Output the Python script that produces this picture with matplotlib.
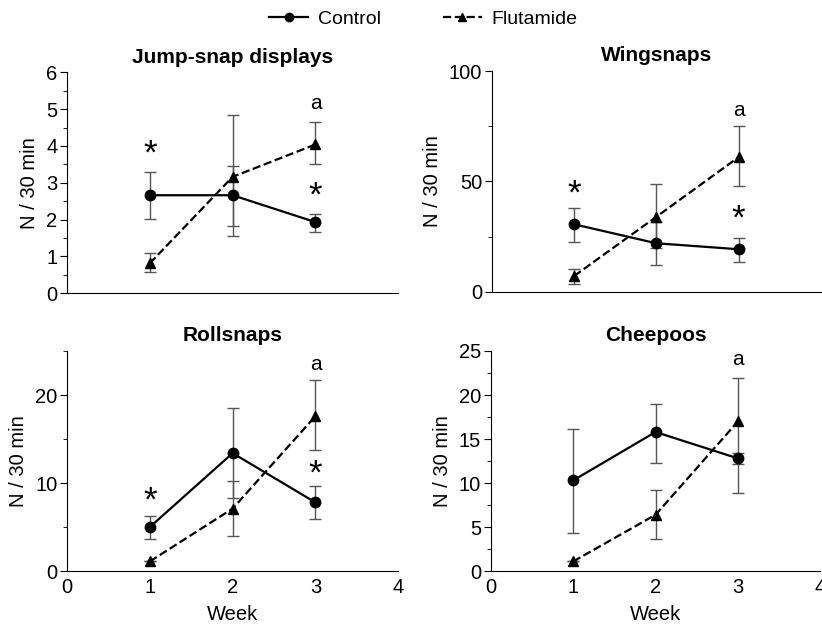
import matplotlib.pyplot as plt
from matplotlib.ticker import MultipleLocator, NullLocator

plt.rcParams['font.family'] = ['Liberation Sans', 'DejaVu Sans']

# ==================================================
# Data
# ==================================================
weeks = [1, 2, 3]

titles = ['Jump-snap displays', 'Wingsnaps', 'Rollsnaps', 'Cheepoos']

control_mean = [[2.66, 2.66, 1.93], [30.6, 22.0, 19.3], [5.0, 13.4, 7.8], [10.3, 15.8, 12.8]]
control_lo = [[2.02, 1.82, 1.67], [22.8, 12.2, 13.7], [3.6, 8.3, 5.9], [4.3, 12.3, 12.2]]
control_hi = [[3.30, 3.46, 2.16], [38.1, 31.8, 24.6], [6.3, 18.5, 9.7], [16.1, 19.0, 13.4]]

flut_mean = [[0.81, 3.16, 4.04], [7.2, 34.0, 61.0], [1.1, 7.1, 17.6], [1.1, 6.4, 17.0]]
flut_lo = [[0.57, 1.55, 3.50], [3.6, 19.8, 48.0], [1.1, 4.0, 13.7], [1.1, 3.6, 8.9]]
flut_hi = [[1.08, 4.84, 4.64], [10.3, 48.7, 75.1], [1.1, 10.2, 21.7], [1.1, 9.2, 21.9]]

y_max = [6, 100, 25, 25]
y_major = [1, 50, 10, 5]
y_minor = [0.5, 25, 5, 2.5]

# annotations: (week, y, text)
marks = [
    [(1, 3.94, '*'), (3, 2.8, '*'), (3, 5.15, 'a')],
    [(1, 47, '*'), (3, 35.6, '*'), (3, 82, 'a')],
    [(1, 8.6, '*'), (3, 11.6, '*'), (3, 23.5, 'a')],
    [(3, 24.0, 'a')],
]

# ==================================================
# Figure
# ==================================================
fig = plt.figure(figsize=(8.22, 6.29), dpi=100)

positions = [
    [0.0815, 0.534, 0.403, 0.351],
    [0.5985, 0.536, 0.400, 0.351],
    [0.0815, 0.092, 0.403, 0.350],
    [0.5970, 0.092, 0.401, 0.350],
]

err_color = '#555555'
fs = 14.5

for i in range(4):
    ax = fig.add_axes(positions[i])
    c_err = [[m - l for m, l in zip(control_mean[i], control_lo[i])],
             [h - m for m, h in zip(control_mean[i], control_hi[i])]]
    f_err = [[m - l for m, l in zip(flut_mean[i], flut_lo[i])],
             [h - m for m, h in zip(flut_mean[i], flut_hi[i])]]

    ax.errorbar(weeks, control_mean[i], yerr=c_err, fmt='none', ecolor=err_color,
                elinewidth=1, capsize=4, capthick=1, zorder=2)
    ax.errorbar(weeks, flut_mean[i], yerr=f_err, fmt='none', ecolor=err_color,
                elinewidth=1, capsize=4, capthick=1, zorder=2)
    ax.plot(weeks, control_mean[i], '-', color='black', marker='o', markersize=7.5,
            linewidth=1.6, label='Control', zorder=3)
    ax.plot(weeks, flut_mean[i], '--', color='black', marker='^', markersize=7.5,
            linewidth=1.6, label='Flutamide', zorder=3)

    for wk, yv, txt in marks[i]:
        if txt == '*':
            # the star glyph sits high in its box, so nudge it down a little
            ax.annotate(txt, (wk, yv), xytext=(0, -4), textcoords='offset points',
                        ha='center', va='center', fontsize=25)
        else:
            ax.text(wk, yv, txt, ha='center', va='center', fontsize=15)

    ax.set_xlim(0, 4)
    ax.set_ylim(0, y_max[i])
    ax.yaxis.set_major_locator(MultipleLocator(y_major[i]))
    ax.yaxis.set_minor_locator(MultipleLocator(y_minor[i]))
    ax.tick_params(axis='y', which='major', length=5, labelsize=fs, pad=2)
    ax.tick_params(axis='y', which='minor', length=3)
    ax.spines['top'].set_visible(False)
    ax.spines['right'].set_visible(False)
    ax.set_title(titles[i], fontsize=15, fontweight='bold', pad=7)
    ax.set_ylabel('N / 30 min', fontsize=fs, labelpad=5)

    if i < 2:
        ax.xaxis.set_major_locator(NullLocator())
    else:
        ax.set_xticks([0, 1, 2, 3, 4])
        ax.tick_params(axis='x', length=0, labelsize=fs, pad=5)
        ax.set_xlabel('Week', fontsize=fs, labelpad=6)

handles, labels = ax.get_legend_handles_labels()
fig.legend(handles, labels, loc='upper center', bbox_to_anchor=(0.515, 1.012), ncol=2,
           frameon=False, fontsize=14, handlelength=2.0, handletextpad=0.5,
           columnspacing=3.2, markerscale=0.8)

fig.savefig('out.png', dpi=100)
